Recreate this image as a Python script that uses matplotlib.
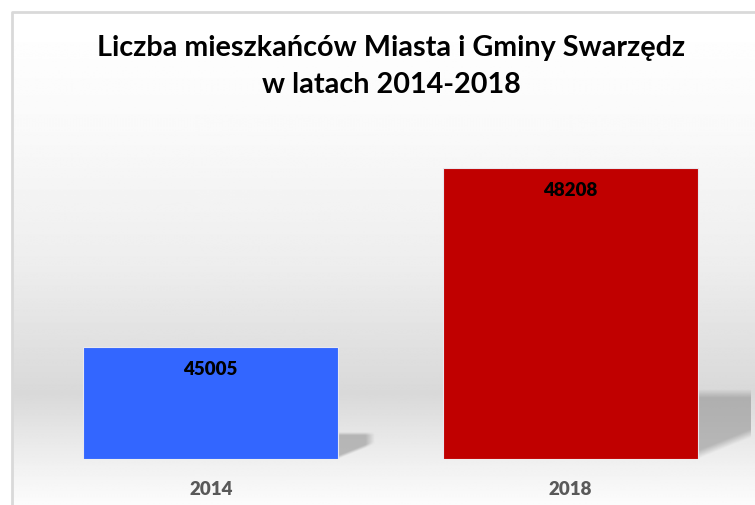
import matplotlib.pyplot as plt
import numpy as np

# Data
years = ["2014", "2018"]
residents = [45005, 48208]
bar_colors = ["#3366FF", "#C00000"]
y_min, y_max = 43000, 49000

plt.rcParams.update({"font.family": ["Lato", "DejaVu Sans"]})

fig = plt.figure(figsize=(7.55, 5.05), dpi=100)
W, H = 755, 505

# background: frame with vertical gradient
bg = fig.add_axes([0, 0, 1, 1], zorder=-10)
bg.set_xlim(0, W)
bg.set_ylim(H, 0)
bg.axis("off")
ys = np.array([12, 130, 260, 390, 460, 505])
vs = np.array([1.0, 0.975, 0.93, 0.85, 0.94, 0.99])
grad = np.interp(np.arange(H), ys, vs)
img = np.repeat(grad[:, None], 2, axis=1)
bg.imshow(img, cmap="gray", vmin=0, vmax=1, extent=[12, W + 5, H, 12],
          aspect="auto", interpolation="bilinear")
bg.plot([12, 12, W + 5], [H, 12, 12], color="#d9d9d9", lw=2)

ax = fig.add_axes([31 / W, 46 / H, 719 / W, 335 / H])
ax.set_facecolor("none")
ax.set_xlim(-0.5, 1.5)
ax.set_ylim(y_min, y_max)
x = np.arange(len(years))
bw = 0.708

# soft perspective shadows to the right of the bars
uu, tt = np.meshgrid(np.linspace(0, 1, 120), np.linspace(0, 1, 120))
for xi, v in zip(x, residents):
    right = xi + bw / 2
    s = 0.24 * (v - y_min)
    w = 1.35 * s * (335 / (y_max - y_min)) / 359
    a = (np.clip((1 - tt) / 0.12, 0, 1) * np.clip((tt - 0.55 * uu) / 0.12, 0, 1)
         * np.clip((1 - uu) / 0.25, 0, 1))
    rgba = np.zeros(uu.shape + (4,))
    rgba[..., :3] = 0.55
    rgba[..., 3] = 0.55 * a
    ax.imshow(rgba, extent=[right, right + w, y_min, y_min + s], origin="lower",
              aspect="auto", interpolation="bilinear", zorder=1)

bars = ax.bar(x, [v - y_min for v in residents], bottom=y_min, width=bw,
              color=bar_colors, edgecolor="#e8e8f0", linewidth=0.8, zorder=2)

for xi, v in zip(x, residents):
    ax.annotate(str(v), (xi, v), xytext=(0, -16), textcoords="offset points",
                ha="center", va="center", fontsize=13.5, fontweight="heavy",
                color="black", zorder=3)

ax.set_xlim(-0.5, 1.5)
ax.set_ylim(y_min, y_max)
ax.set_xticks(x, years)
ax.tick_params(axis="x", length=0, pad=16, labelsize=13.5, labelcolor="#595959")
for t in ax.get_xticklabels():
    t.set_fontweight("heavy")
ax.set_yticks([])
for sp in ax.spines.values():
    sp.set_visible(False)

fig.text(391 / W, 1 - 48 / H, "Liczba mieszkańców Miasta i Gminy Swarzędz",
         ha="center", va="center", fontsize=20.7, fontweight="bold")
fig.text(391 / W, 1 - 85 / H, "w latach 2014-2018",
         ha="center", va="center", fontsize=20.7, fontweight="bold")

fig.savefig("out.png", dpi=100)
